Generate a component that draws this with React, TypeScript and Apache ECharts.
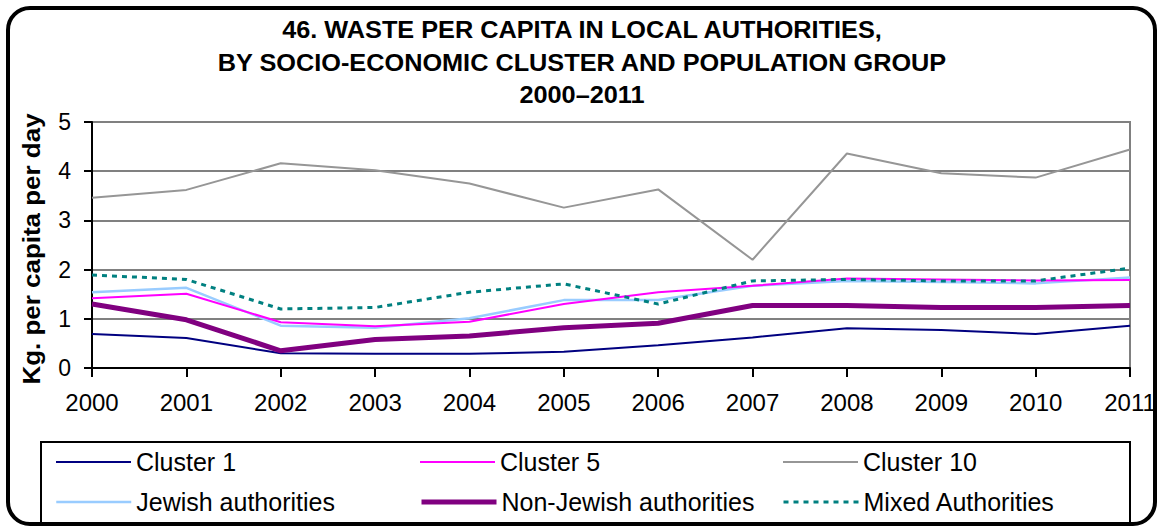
import React, { useEffect, useRef } from "react";
import * as echarts from "echarts";

const years = ["2000", "2001", "2002", "2003", "2004", "2005", "2006", "2007", "2008", "2009", "2010", "2011"];
const cluster1 = [0.69, 0.61, 0.3, 0.29, 0.29, 0.33, 0.46, 0.62, 0.81, 0.77, 0.69, 0.86];
const cluster5 = [1.42, 1.51, 0.93, 0.85, 0.94, 1.3, 1.54, 1.67, 1.82, 1.8, 1.78, 1.79];
const cluster10 = [3.46, 3.62, 4.16, 4.02, 3.75, 3.26, 3.63, 2.2, 4.36, 3.96, 3.87, 4.44];
const jewish = [1.54, 1.63, 0.86, 0.82, 1.01, 1.38, 1.38, 1.67, 1.77, 1.75, 1.72, 1.84];
const nonJewish = [1.3, 0.98, 0.35, 0.58, 0.65, 0.82, 0.91, 1.27, 1.27, 1.23, 1.23, 1.27];
const mixed = [1.89, 1.8, 1.2, 1.23, 1.54, 1.71, 1.3, 1.77, 1.8, 1.77, 1.77, 2.03];

const titleLines = [
  "46. WASTE PER CAPITA IN LOCAL AUTHORITIES,",
  "BY SOCIO-ECONOMIC CLUSTER AND POPULATION GROUP",
  "2000\u20132011",
];
const yAxisName = "Kg. per capita per day";

const FONT = '"Liberation Sans", Arial, sans-serif';

export default function App() {
  const ref = useRef<HTMLDivElement>(null);
  useEffect(() => {
    if (!ref.current) return;
    const chart = echarts.init(ref.current, null, { renderer: "svg" });

    const seriesDefs = [
      { name: "Cluster 10", data: cluster10, color: "#969696", width: 2, type: "solid" },
      { name: "Jewish authorities", data: jewish, color: "#99CCFF", width: 2.5, type: "solid" },
      { name: "Cluster 5", data: cluster5, color: "#FF00FF", width: 2, type: "solid" },
      { name: "Cluster 1", data: cluster1, color: "#000080", width: 2, type: "solid" },
      { name: "Non-Jewish authorities", data: nonJewish, color: "#800080", width: 5, type: "solid" },
      { name: "Mixed Authorities", data: mixed, color: "#008080", width: 3, type: [5, 5] },
    ];

    const legendPos: [string, number, number][] = [
      ["Cluster 1", 55, 449],
      ["Cluster 5", 419, 449],
      ["Cluster 10", 782, 449],
      ["Jewish authorities", 55, 489],
      ["Non-Jewish authorities", 419, 489],
      ["Mixed Authorities", 782, 489],
    ];

    const titleY = [30, 63, 95];

    chart.setOption({
      animation: false,
      backgroundColor: "#ffffff",
      textStyle: { fontFamily: FONT },
      grid: {
        left: 92,
        right: 30,
        top: 122,
        bottom: 158,
        show: true,
        borderColor: "#808080",
        borderWidth: 2,
        containLabel: false,
      },
      xAxis: {
        type: "category",
        data: years,
        boundaryGap: false,
        axisLine: { lineStyle: { color: "#000", width: 2 } },
        axisTick: { show: true, length: 9, lineStyle: { color: "#000", width: 2 } },
        axisLabel: { color: "#000", fontSize: 24, fontFamily: FONT, margin: 22 },
        splitLine: { show: false },
      },
      yAxis: {
        type: "value",
        min: 0,
        max: 5,
        interval: 1,
        axisLine: { show: true, lineStyle: { color: "#000", width: 2 } },
        axisTick: { show: true, length: 8, lineStyle: { color: "#000", width: 2 } },
        axisLabel: { color: "#000", fontSize: 23, fontFamily: FONT, margin: 21 },
        splitLine: { show: true, lineStyle: { color: "#808080", width: 2 } },
      },
      legend: legendPos.map(([name, x, y]) => {
        const s = seriesDefs.find((d) => d.name === name)!;
        return {
          data: [name],
          left: x,
          top: y,
          padding: 0,
          itemWidth: 75,
          itemHeight: 14,
          itemGap: 0,
          selectedMode: false,
          itemStyle: { opacity: 0 },
          lineStyle: { color: s.color, width: s.width, type: s.type },
          textStyle: { fontSize: 25, color: "#000", fontFamily: FONT, lineHeight: 26 },
        };
      }),
      series: seriesDefs.map((s) => ({
        name: s.name,
        type: "line",
        data: s.data,
        symbol: "none",
        smooth: false,
        color: s.color,
        lineStyle: { color: s.color, width: s.width, type: s.type },
      })),
      graphic: [
        {
          type: "rect",
          shape: { x: 8, y: 8, width: 1147, height: 516, r: 22 },
          style: { fill: "none", stroke: "#000", lineWidth: 4 },
          silent: true,
        },
        {
          type: "rect",
          shape: { x: 41, y: 442, width: 1089, height: 82 },
          style: { fill: "none", stroke: "#000", lineWidth: 2 },
          silent: true,
        },
        ...titleLines.map((t, i) => ({
          type: "text",
          x: 582,
          y: titleY[i],
          scaleX: 1.1,
          style: {
            text: t,
            font: `bold 23px ${FONT}`,
            fill: "#000",
            textAlign: "center",
            textVerticalAlign: "middle",
          },
        })),
        {
          type: "text",
          x: 31,
          y: 249,
          rotation: Math.PI / 2,
          scaleX: 1.06,
          style: {
            text: yAxisName,
            font: `bold 24.5px ${FONT}`,
            fill: "#000",
            textAlign: "center",
            textVerticalAlign: "middle",
          },
        },
      ],
    });
    return () => chart.dispose();
  }, []);
  return (
    <div
      ref={ref}
      style={{ position: "fixed", left: 0, top: 0, width: 1160, height: 526, background: "#fff" }}
    />
  );
}
